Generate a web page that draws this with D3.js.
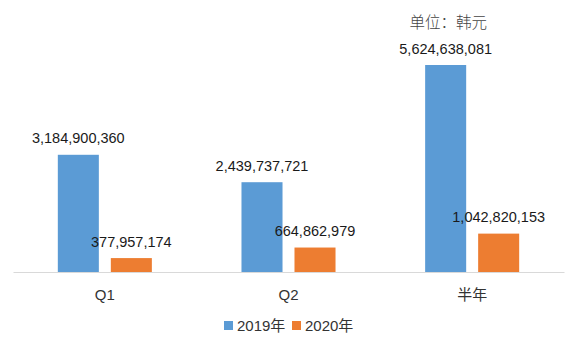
<!DOCTYPE html>
<html><head><meta charset="utf-8">
<script src="https://cdn.jsdelivr.net/npm/d3@7"></script>
<style>
body{margin:0;background:#fff;}
svg{display:block;font-family:"Liberation Sans",Arial,"Noto Sans CJK SC",sans-serif;}
</style></head>
<body>
<script>
const categories = ["Q1", "Q2", "半年"];
const seriesNames = ["2019年", "2020年"];
const values2019 = [3184900360, 2439737721, 5624638081];
const values2020 = [377957174, 664862979, 1042820153];
const colors = ["#5B9BD5", "#ED7D31"];
const unitLabel = "单位：韩元";

const W = 580, H = 339;
const svg = d3.select("body").append("svg").attr("width", W).attr("height", H);

const baseY = 272;
const x0 = d3.scaleBand().domain(categories).range([13, 564]).padding(0);
const bw = x0.bandwidth();
const x1 = d3.scaleBand().domain(seriesNames).range([bw * 0.244, bw * 0.756]).paddingInner(0.226).paddingOuter(0);
const y = d3.scaleLinear().domain([0, 5624638081]).range([baseY, 65]);

const data = categories.map((c, i) => ({
  cat: c,
  vals: [{s: seriesNames[0], v: values2019[i]}, {s: seriesNames[1], v: values2020[i]}]
}));

const fmt = d3.format(",");

const g = svg.selectAll("g.grp").data(data).enter().append("g")
  .attr("transform", d => `translate(${x0(d.cat)},0)`);

g.selectAll("rect").data(d => d.vals).enter().append("rect")
  .attr("x", d => x1(d.s))
  .attr("width", x1.bandwidth())
  .attr("y", d => y(d.v))
  .attr("height", d => baseY - y(d.v))
  .attr("fill", (d, i) => colors[i]);

g.selectAll("text.val").data(d => d.vals).enter().append("text")
  .attr("class", "val")
  .attr("x", d => x1(d.s) + x1.bandwidth() / 2)
  .attr("y", d => y(d.v) - 11.5)
  .attr("text-anchor", "middle")
  .attr("font-size", "14.5px")
  .attr("fill", "#1a1a1a")
  .text(d => fmt(d.v));

// axis
const axis = d3.axisBottom(x0).tickSize(0).tickPadding(17);
const ax = svg.append("g").attr("transform", `translate(0,${baseY})`).call(axis);
ax.select(".domain").attr("stroke", "#d9d9d9").attr("stroke-width", 1.2);
ax.selectAll("text").attr("font-size", "15px").attr("fill", "#333")
  .attr("font-family", "\"Liberation Sans\",Arial,\"Noto Sans CJK SC\",sans-serif");

// unit label
svg.append("text").attr("x", 487).attr("y", 28).attr("text-anchor", "end")
  .attr("font-size", "15.5px").attr("fill", "#444")
  .attr("font-family", "\"Noto Sans CJK SC\",sans-serif")
  .attr("font-weight", 300)
  .text(unitLabel);

// legend
const legendX = [224, 292];
const lg = svg.selectAll("g.leg").data(seriesNames).enter().append("g")
  .attr("transform", (d, i) => `translate(${legendX[i]},321)`);
lg.append("rect").attr("width", 9).attr("height", 9).attr("fill", (d, i) => colors[i]);
lg.append("text").attr("x", 13).attr("y", 10).attr("font-size", "15px").attr("fill", "#333")
  .text(d => d);
</script>
</body></html>
